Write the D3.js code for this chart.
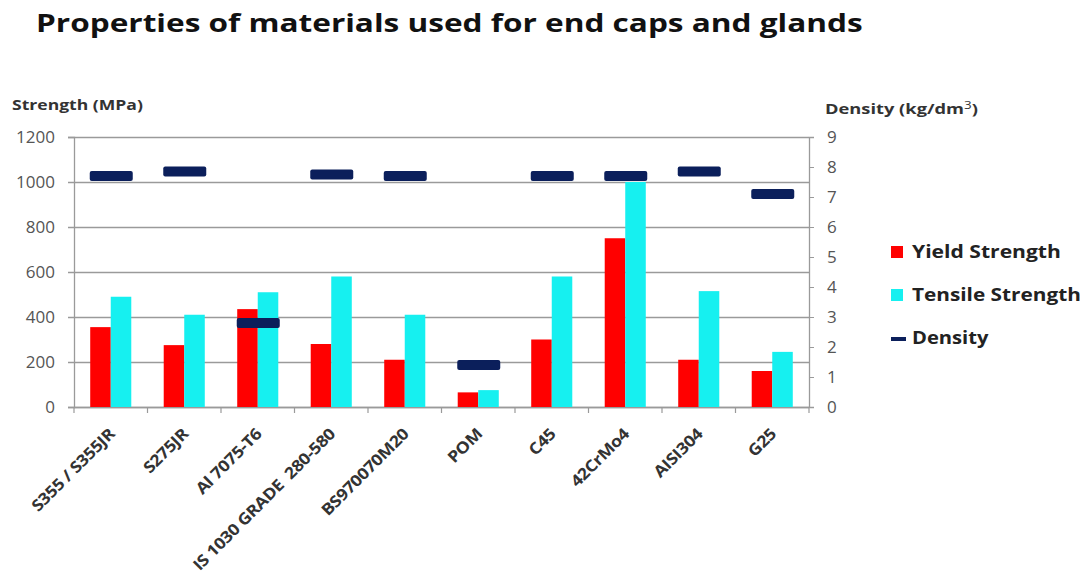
<!DOCTYPE html>
<html>
<head>
<meta charset="utf-8">
<script src="https://cdn.jsdelivr.net/npm/d3@7"></script>
<style>
  html, body { margin: 0; padding: 0; background: #fff; }
  svg { display: block; }
  text { font-family: "Open Sans", Lato, sans-serif; white-space: pre; }
</style>
</head>
<body>
<svg id="chart" width="1088" height="583"></svg>
<script>
// Materials compared
const categories = ["S355 / S355JR", "S275JR", "Al 7075-T6", "IS 1030 GRADE  280-580", "BS970070M20",
                    "POM", "C45", "42CrMo4", "AISI304", "G25"];
// Strength values in MPa
const yieldStrength   = [355, 275, 435, 280, 210, 65, 300, 750, 210, 160];
const tensileStrength = [490, 410, 510, 580, 410, 75, 580, 1000, 515, 245];
// Density in kg/dm3
const density = [7.7, 7.85, 2.8, 7.75, 7.7, 1.4, 7.7, 7.7, 7.85, 7.1];

const leftTicks  = [0, 200, 400, 600, 800, 1000, 1200];
const rightTicks = [0, 1, 2, 3, 4, 5, 6, 7, 8, 9];

const colors = { yield: "#ff0000", tensile: "#16f0f0", density: "#0b1f5b" };

const svg = d3.select("#chart");
const plot = { left: 74, right: 809, top: 137, bottom: 407 };

const x = d3.scaleBand().domain(categories).range([plot.left, plot.right]).padding(0);
const xSub = d3.scaleBand().domain(["yield", "tensile"]).range([0, x.bandwidth()])
  .paddingInner(0).paddingOuter(0.79);
const yL = d3.scaleLinear().domain([0, 1200]).range([plot.bottom, plot.top]);
const yR = d3.scaleLinear().domain([0, 9]).range([plot.bottom, plot.top]);

// Places a text block at (x, y) and widens it horizontally to the given width
function widenedText(x0, y0, width) {
  const g = svg.append("g").attr("transform", `translate(${x0},${y0})`);
  const t = g.append("text").attr("x", 0).attr("y", 0);
  return {
    text: t,
    fit() {
      const w = t.node().getBBox().width;
      g.attr("transform", `translate(${x0},${y0}) scale(${width / w},1)`);
    }
  };
}

// Title
const title = widenedText(36, 32, 827);
title.text.attr("font-size", 24.5).attr("font-weight", 700).attr("fill", "#111")
  .text("Properties of materials used for end caps and glands");
title.fit();

// Horizontal gridlines
svg.append("g").selectAll("line").data(leftTicks).join("line")
  .attr("x1", plot.left - 6).attr("x2", plot.right)
  .attr("y1", d => yL(d) + 0.5).attr("y2", d => yL(d) + 0.5)
  .attr("stroke", "#9a9a9a").attr("stroke-width", 1.3);

// Left axis
const leftAxis = svg.append("g").attr("transform", `translate(${plot.left},0)`)
  .call(d3.axisLeft(yL).tickValues(leftTicks).tickFormat(d3.format("d")).tickSize(6).tickPadding(13));
leftAxis.select(".domain").attr("stroke", "#9a9a9a").attr("stroke-width", 1.3);
leftAxis.selectAll(".tick line").attr("stroke", "#9a9a9a");
leftAxis.selectAll("text").attr("font-size", 17).attr("fill", "#555")
  .attr("font-family", "'Open Sans', sans-serif");

// Right axis
const rightAxis = svg.append("g").attr("transform", `translate(${plot.right},0)`)
  .call(d3.axisRight(yR).tickValues(rightTicks).tickSize(5).tickPadding(13));
rightAxis.select(".domain").attr("stroke", "#9a9a9a").attr("stroke-width", 1.3);
rightAxis.selectAll(".tick line").attr("stroke", "#9a9a9a");
rightAxis.selectAll("text").attr("font-size", 17).attr("fill", "#555")
  .attr("font-family", "'Open Sans', sans-serif");

// Category axis with boundary ticks
const bottom = svg.append("g");
bottom.append("line")
  .attr("x1", plot.left).attr("x2", plot.right)
  .attr("y1", plot.bottom + 0.5).attr("y2", plot.bottom + 0.5)
  .attr("stroke", "#9a9a9a").attr("stroke-width", 1.3);
const bounds = categories.map(c => x(c)).concat([plot.right]);
bottom.selectAll("line.b").data(bounds).join("line").attr("class", "b")
  .attr("x1", d => d).attr("x2", d => d)
  .attr("y1", plot.bottom).attr("y2", plot.bottom + 6)
  .attr("stroke", "#9a9a9a").attr("stroke-width", 1.2);

// Bars
const groups = svg.append("g").selectAll("g").data(categories).join("g")
  .attr("transform", d => `translate(${x(d)},0)`);
groups.append("rect")
  .attr("x", xSub("yield")).attr("width", xSub.bandwidth())
  .attr("y", (d, i) => yL(yieldStrength[i]))
  .attr("height", (d, i) => yL(0) - yL(yieldStrength[i]))
  .attr("fill", colors.yield);
groups.append("rect")
  .attr("x", xSub("tensile")).attr("width", xSub.bandwidth())
  .attr("y", (d, i) => yL(tensileStrength[i]))
  .attr("height", (d, i) => yL(0) - yL(tensileStrength[i]))
  .attr("fill", colors.tensile);

// Density dash markers
svg.append("g").selectAll("rect").data(categories).join("rect")
  .attr("x", d => x(d) + x.bandwidth() / 2 - 21)
  .attr("width", 43).attr("height", 10).attr("rx", 2)
  .attr("y", (d, i) => yR(density[i]) - 5)
  .attr("fill", colors.density);

// Rotated category labels
svg.append("g").selectAll("text").data(categories).join("text")
  .attr("text-anchor", "end")
  .attr("transform", d => `translate(${x(d) + x.bandwidth() / 2 + 5},435) rotate(-45) scale(1.12,1)`)
  .attr("font-size", 16).attr("font-weight", 700).attr("fill", "#333")
  .attr("letter-spacing", -0.4)
  .text(d => d);

// Axis titles
const lt = widenedText(12, 110, 131);
lt.text.attr("font-size", 15).attr("font-weight", 700).attr("fill", "#333")
  .text("Strength (MPa)");
lt.fit();
const rt = widenedText(825, 114, 153);
rt.text.attr("font-size", 15).attr("font-weight", 700).attr("fill", "#333");
rt.text.append("tspan").text("Density (kg/dm");
rt.text.append("tspan").attr("font-size", 11).attr("dy", -5).attr("font-weight", 400).text("3");
rt.text.append("tspan").attr("dy", 5).text(")");
rt.fit();

// Legend
const legendItems = [
  { key: "yield", label: "Yield Strength", width: 149 },
  { key: "tensile", label: "Tensile Strength", width: 169 },
  { key: "density", label: "Density", width: 77 }
];
legendItems.forEach((item, i) => {
  const y0 = 258 + i * 43;
  if (item.key === "density") {
    svg.append("rect").attr("x", 891).attr("y", y0 - 7).attr("width", 15).attr("height", 4)
      .attr("fill", colors.density);
  } else {
    svg.append("rect").attr("x", 891).attr("y", y0 - 12).attr("width", 12).attr("height", 12)
      .attr("fill", colors[item.key]);
  }
  const lbl = widenedText(912, y0, item.width);
  lbl.text.attr("font-size", 18.5).attr("font-weight", 700).attr("fill", "#222")
    .text(item.label);
  lbl.fit();
});
</script>
</body>
</html>
